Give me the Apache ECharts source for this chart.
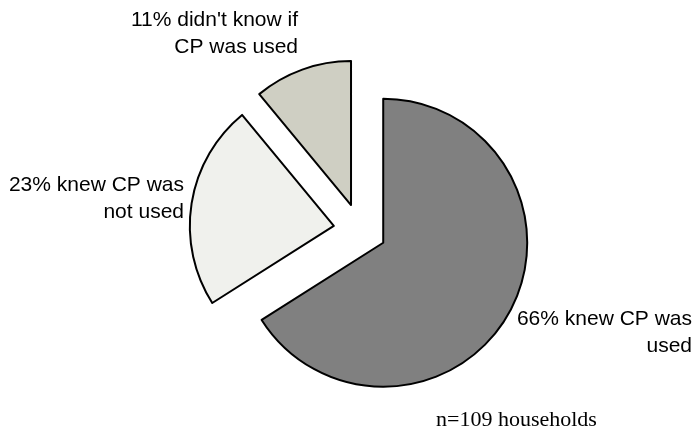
<!DOCTYPE html>
<html>
<head>
<meta charset="utf-8">
<script src="https://cdn.jsdelivr.net/npm/echarts@6/dist/echarts.min.js"></script>
<style>
  html, body { margin: 0; padding: 0; background: #fff; }
  #chart { width: 694px; height: 432px; }
</style>
</head>
<body>
<div id="chart"></div>
<script>
// Survey answers: share of households (percent)
const categories = ["knew CP was\nused", "knew CP was\nnot used", "didn't know if\nCP was used"];
const percents = [66, 23, 11];
const sliceColors = ['#808080', '#f0f1ed', '#cfcfc3'];
const sampleNote = 'n=109 households';

// Where each two-line label block sits (right edge, vertical middle)
const labelAnchors = [
  { x: 692, y: 333 },
  { x: 184, y: 199 },
  { x: 298, y: 34 }
];

const chart = echarts.init(document.getElementById('chart'), null, { renderer: 'canvas' });

const sliceBorder = { borderColor: '#000', borderWidth: 2 };
const sansFont = '"Liberation Sans", Arial, sans-serif';

// Slice labels, written from the same values the slices are drawn from
const sliceLabels = percents.map(function (v, i) {
  return {
    type: 'text',
    x: labelAnchors[i].x,
    y: labelAnchors[i].y,
    silent: true,
    style: {
      text: v + '% ' + categories[i],
      align: 'right',
      verticalAlign: 'middle',
      fontFamily: sansFont,
      fontSize: 21,
      lineHeight: 27,
      fill: '#000'
    }
  };
});

chart.setOption({
  animation: false,
  backgroundColor: '#fff',
  graphic: sliceLabels.concat([{
    type: 'text',
    x: 436,
    y: 420,
    silent: true,
    style: {
      text: sampleNote,
      align: 'left',
      verticalAlign: 'middle',
      fontFamily: '"Liberation Serif", "Times New Roman", serif',
      fontSize: 22,
      fill: '#000'
    }
  }]),
  series: [{
    type: 'pie',
    center: [360, 230],
    radius: 144,
    startAngle: 90,
    clockwise: true,
    selectedMode: 'multiple',
    selectedOffset: 26.5,
    label: { show: false },
    labelLine: { show: false },
    itemStyle: sliceBorder,
    select: { itemStyle: sliceBorder },
    emphasis: { disabled: true },
    data: percents.map(function (v, i) {
      return {
        name: categories[i],
        value: v,
        selected: true,
        itemStyle: { color: sliceColors[i] }
      };
    })
  }]
});
</script>
</body>
</html>
